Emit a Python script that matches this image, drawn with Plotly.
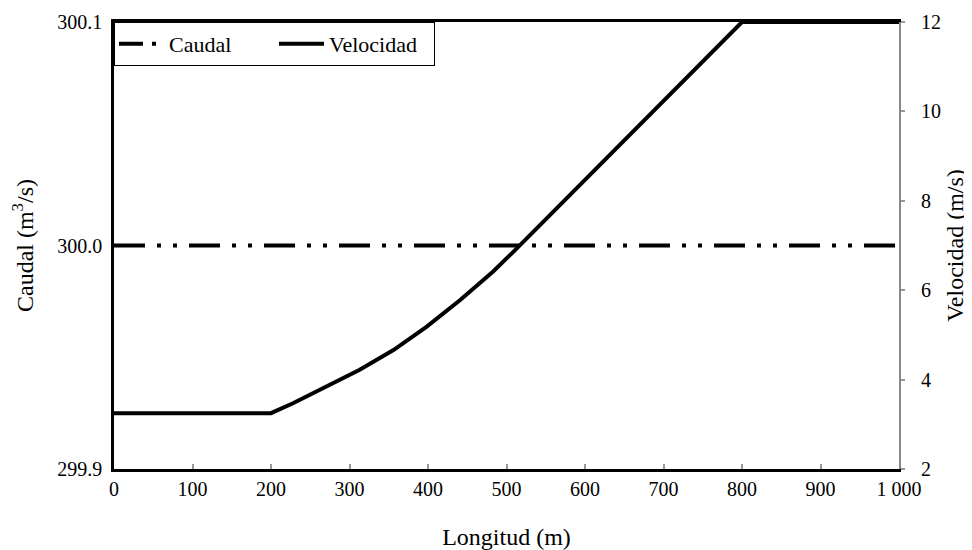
import plotly.graph_objects as go

# Data
longitud = [0, 200, 228, 271, 313, 356, 398, 441, 483, 510, 800, 1000]
velocidad = [3.25, 3.25, 3.47, 3.84, 4.22, 4.66, 5.18, 5.78, 6.42, 6.88, 12.0, 12.0]

caudal_x = [0, 1000]
caudal = [300.0, 300.0]

x_tickvals = [0, 100, 200, 300, 400, 500, 600, 700, 800, 900, 1000]
x_ticktext = ["0", "100", "200", "300", "400", "500", "600", "700", "800", "900", "1 000"]
y_tickvals = [299.9, 300.0, 300.1]
y_ticktext = ["299.9", "300.0", "300.1"]
y2_tickvals = [2, 4, 6, 8, 10, 12]

FONT = "Liberation Serif"

fig = go.Figure()
# Caudal line (legend entry drawn by a legend-only proxy with a shorter pattern)
fig.add_trace(go.Scatter(
    x=caudal_x, y=caudal, name="Caudal", mode="lines",
    line=dict(color="black", width=4, dash="31px,12px,4px,12px,4px,12px"),
    yaxis="y", showlegend=False, legendgroup="c",
))
fig.add_trace(go.Scatter(
    x=[None], y=[None], name="Caudal", mode="lines",
    line=dict(color="black", width=4, dash="24px,9px,4px,40px"),
    yaxis="y", showlegend=True, legendgroup="c",
))
fig.add_trace(go.Scatter(
    x=longitud, y=velocidad, name="Velocidad", mode="lines",
    line=dict(color="black", width=4),
    yaxis="y2",
))

fig.update_layout(
    width=964, height=542,
    margin=dict(l=106, r=73, t=14, b=81),
    paper_bgcolor="white", plot_bgcolor="white",
    font=dict(family=FONT, size=20, color="black"),
    showlegend=True,
    legend=dict(
        x=0, y=1, xanchor="left", yanchor="top", orientation="h",
        bordercolor="black", borderwidth=1, bgcolor="white",
        font=dict(family=FONT, size=22),
        tracegroupgap=0, itemwidth=45, entrywidth=100,
    ),
    xaxis=dict(
        range=[0, 1000], tickvals=x_tickvals, ticktext=x_ticktext,
        ticks="inside", ticklen=5, tickcolor="#999", tickwidth=1.5,
        showline=True, linecolor="black", linewidth=2.5, mirror=True,
        showgrid=False, zeroline=False, automargin=False,
        title=dict(text="Longitud (m)", standoff=30),
    ),
    yaxis=dict(
        range=[299.9, 300.1], tickvals=y_tickvals, ticktext=y_ticktext,
        ticks="", showline=True, linecolor="black", linewidth=2.5,
        showgrid=False, zeroline=False, ticklabelstandoff=5, automargin=False,
        title=dict(text="Caudal (m<sup>3</sup>/s)", standoff=38),
    ),
    yaxis2=dict(
        overlaying="y", side="right", range=[2, 12], tickvals=y2_tickvals,
        ticks="outside", ticklen=4, tickcolor="#999", tickwidth=1.5,
        showline=True, linecolor="#888", linewidth=2,
        showgrid=False, zeroline=False, ticklabelstandoff=12, automargin=False,
        title=dict(text="Velocidad (m/s)", standoff=6),
    ),
)

fig.write_html("out.html")
